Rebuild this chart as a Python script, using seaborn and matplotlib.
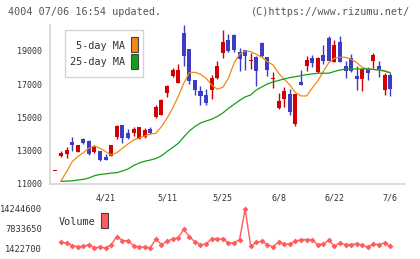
import numpy as np
import matplotlib
matplotlib.use("Agg")
import matplotlib.pyplot as plt
import seaborn as sns
from matplotlib.patches import Rectangle

sns.set_style("white")
plt.rcParams['font.family'] = ['DejaVu Sans Mono', 'DejaVu Sans']

# Prices (4/7 .. 7/6, trading days)
opens = [11760, 12680, 12800, 13500, 12940, 13700, 13600, 12940, 12980, 12640,
         12700, 13850, 14540, 14060, 14060, 13720, 13845, 14285, 15045, 15170,
         16490, 17490, 17090, 20060, 19095, 17250, 16610, 16350, 16650, 17390,
         18890, 19655, 19936, 18950, 19050, 18380, 18650, 19450, 18610, 17300,
         15590, 16110, 16410, 14610, 17130, 18110, 18570, 17750, 18750, 19760,
         18350, 19530, 18090, 18550, 17490, 17330, 17890, 18370, 18090, 16650,
         17550]
closes = [11790, 12850, 13040, 13340, 13340, 13450, 12800, 13240, 12440, 12440,
          13340, 14490, 13750, 13750, 14300, 14400, 14245, 14065, 15610, 16050,
          16890, 17850, 17850, 18710, 17210, 16650, 16290, 15890, 17390, 18090,
          19535, 19015, 19075, 18510, 18710, 18440, 17810, 18690, 17850, 17360,
          15990, 16590, 15330, 16410, 16950, 18450, 18290, 18570, 18410, 18410,
          19350, 18350, 17790, 17790, 17330, 17910, 17690, 18750, 17850, 17550,
          16730]
highs = [11790, 13000, 13240, 13800, 13360, 13760, 13640, 13320, 13000, 12800,
         13360, 14550, 14560, 14300, 14430, 14420, 14385, 14405, 15750, 16130,
         16950, 17950, 18210, 20550, 19100, 17260, 16890, 16690, 17550, 18390,
         20256, 20020, 20000, 19150, 19060, 18890, 18690, 19530, 18650, 17710,
         16450, 16810, 16690, 16420, 17850, 18690, 18770, 18600, 19350, 19900,
         19650, 19900, 18370, 18810, 18090, 17950, 18010, 18870, 18370, 17690,
         17690]
lows = [11760, 12600, 12580, 13000, 12900, 13380, 12740, 12880, 12400, 12420,
        12680, 13700, 13450, 13720, 13900, 13700, 13785, 14025, 14970, 15130,
        16250, 17430, 17050, 18060, 17010, 16350, 15770, 15750, 16130, 17330,
        18550, 18950, 18950, 17760, 17850, 17890, 16890, 18650, 17490, 16790,
        15510, 15650, 15150, 14490, 16940, 17790, 18000, 17650, 18210, 18400,
        18340, 18340, 17390, 17710, 16650, 16590, 17250, 17980, 17450, 16350,
        16290]

# Moving averages
ma5 = [np.nan, 11180, 11740, 12340, 12640, 12880, 13145, 13285, 13145, 12940,
       12745, 12880, 13145, 13405, 13645, 13760, 13885, 14005, 14045, 14445,
       14950, 15550, 16250, 17050, 17690, 17710, 17590, 17350, 16950, 16690,
       16810, 17350, 18250, 18790, 18990, 18950, 18790, 18610, 18350, 18150,
       17650, 17290, 16950, 16490, 16290, 16290, 16750, 17180, 17750, 18290,
       18550, 18610, 18610, 18490, 18290, 18010, 17890, 17890, 17850, 17810,
       17690]
ma25 = [np.nan, 11160, 11175, 11190, 11240, 11280, 11360, 11500, 11570, 11610,
        11655, 11680, 11780, 11900, 12105, 12260, 12365, 12440, 12530, 12695,
        12950, 13195, 13435, 13825, 14185, 14455, 14665, 14785, 14890, 15055,
        15265, 15540, 15780, 16020, 16230, 16350, 16650, 16830, 17010, 17130,
        17220, 17310, 17390, 17445, 17505, 17570, 17610, 17655, 17655, 17655,
        17760, 17850, 17895, 17910, 17910, 17910, 17910, 17880, 17850, 17775,
        17670]

volume = [np.nan, 3380000, 3190000, 2300000, 1980000, 2080000, 2630000, 1550000,
          1880000, 1422700, 2630000, 5240000, 3930000, 3930000, 2300000, 1880000,
          1880000, 1550000, 4490000, 2630000, 3710000, 4490000, 4820000, 7620000,
          5240000, 3510000, 2630000, 2860000, 4490000, 4490000, 4490000, 3190000,
          3190000, 4260000, 14244600, 2080000, 3380000, 3710000, 2630000, 1880000,
          3510000, 2860000, 2860000, 3710000, 4260000, 4260000, 4260000, 2630000,
          2860000, 4030000, 2080000, 3190000, 2630000, 2630000, 2960000, 2400000,
          1750000, 2860000, 2630000, 3190000, 2080000]

date_labels = ["4/21", "5/11", "5/25", "6/8", "6/22", "7/6"]
date_pos = [9, 20, 30, 40, 50, 60]
price_ticks = [11000, 13000, 15000, 17000, 19000]
vol_ticks = [1422700, 7833650, 14244600]

RED = "#d40000"
BLUE = "#3c3cc4"
ORANGE = "#f08a10"
GREEN = "#14a014"
VOLC = "#ff5c5c"
TXT = "#333333"
GRAY = "#d4d4d4"

W, H = 420, 259
fig = plt.figure(figsize=(W / 100, H / 100), dpi=100)


def box(l, t, r, b):
    return [l / W, 1 - b / H, (r - l) / W, (b - t) / H]


ax = fig.add_axes(box(50, 25, 405, 184))
vax = fig.add_axes(box(50, 209, 405, 248.3))

idx = np.arange(len(opens))
o = np.array(opens, float)
c = np.array(closes, float)
up = c >= o
cols = [RED if u else BLUE for u in up]

# wicks + bodies
ax.vlines(idx, lows, highs, colors=cols, linewidth=1.0, zorder=2)
bottoms = np.minimum(o, c)
heights = np.maximum(np.abs(c - o), 60)
ax.bar(idx, heights, bottom=bottoms, width=0.72, color=cols, linewidth=0, zorder=3)

sns.lineplot(x=idx, y=ma5, ax=ax, color=ORANGE, linewidth=0.9, zorder=4)
sns.lineplot(x=idx, y=ma25, ax=ax, color=GREEN, linewidth=0.9, zorder=4)

x0, x1 = -0.97, 62.65
ax.set_xlim(x0, x1)
ax.set_ylim(11000, 20550)
ax.set_xticks(np.linspace(x0, x1, 12))
ax.set_xticklabels([])
ax.set_yticks(price_ticks)
ax.set_yticklabels([str(t) for t in price_ticks], fontsize=6, color=TXT)
ax.tick_params(axis="both", direction="inout", length=6, width=1.2, color=GRAY, pad=3)
ax.tick_params(axis="x", length=5)
for s in ["top", "right"]:
    ax.spines[s].set_visible(False)
for s in ["left", "bottom"]:
    ax.spines[s].set_color(GRAY)
    ax.spines[s].set_linewidth(1.2)
ax.set_xlabel("")
ax.set_ylabel("")
for p, lab in zip(date_pos, date_labels):
    ax.text(p, -0.09, lab, transform=ax.get_xaxis_transform(), ha="center", va="center",
            fontsize=6, color=TXT)

# volume panel
sns.lineplot(x=idx, y=volume, ax=vax, color=VOLC, linewidth=1.0, marker="D",
             markersize=3.0, markeredgewidth=0, clip_on=False)
vax.set_xlim(x0, x1)
vax.set_ylim(vol_ticks[0], vol_ticks[-1])
vax.set_xticks([])
vax.set_yticks(vol_ticks)
vax.set_yticklabels([str(t) for t in vol_ticks], fontsize=6.3, color=TXT)
vax.tick_params(axis="y", length=0, pad=6)
for s in vax.spines.values():
    s.set_visible(False)
vax.set_xlabel("")
vax.set_ylabel("")
vax.patch.set_alpha(0)

# legend boxes
fig.patches.append(Rectangle((65 / W, 1 - 77 / H), 78 / W, 47 / H, transform=fig.transFigure,
                             facecolor="white", edgecolor=GRAY, linewidth=1.0, zorder=5))
fig.text(125 / W, 1 - 46 / H, "5-day MA", ha="right", va="center", fontsize=7.3, color=TXT, zorder=6)
fig.text(125 / W, 1 - 62 / H, "25-day MA", ha="right", va="center", fontsize=7.3, color=TXT, zorder=6)
fig.patches.append(Rectangle((131 / W, 1 - 52 / H), 7 / W, 15 / H, transform=fig.transFigure,
                             facecolor=ORANGE, edgecolor="#444444", linewidth=0.8, zorder=6))
fig.patches.append(Rectangle((131 / W, 1 - 69 / H), 7 / W, 15 / H, transform=fig.transFigure,
                             facecolor=GREEN, edgecolor="#444444", linewidth=0.8, zorder=6))

fig.text(59 / W, 1 - 222 / H, "Volume", ha="left", va="center", fontsize=7.3, color=TXT)
fig.patches.append(Rectangle((101 / W, 1 - 228 / H), 7 / W, 15 / H, transform=fig.transFigure,
                             facecolor=VOLC, edgecolor="#444444", linewidth=0.8, zorder=6))

fig.text(8 / W, 1 - 12 / H, "4004 07/06 16:54 updated.", ha="left", va="center",
         fontsize=7.3, color="#555555")
fig.text(410 / W, 1 - 12 / H, "(C)https://www.rizumu.net/", ha="right", va="center",
         fontsize=7.3, color="#555555")

fig.savefig("out.png", dpi=100)
